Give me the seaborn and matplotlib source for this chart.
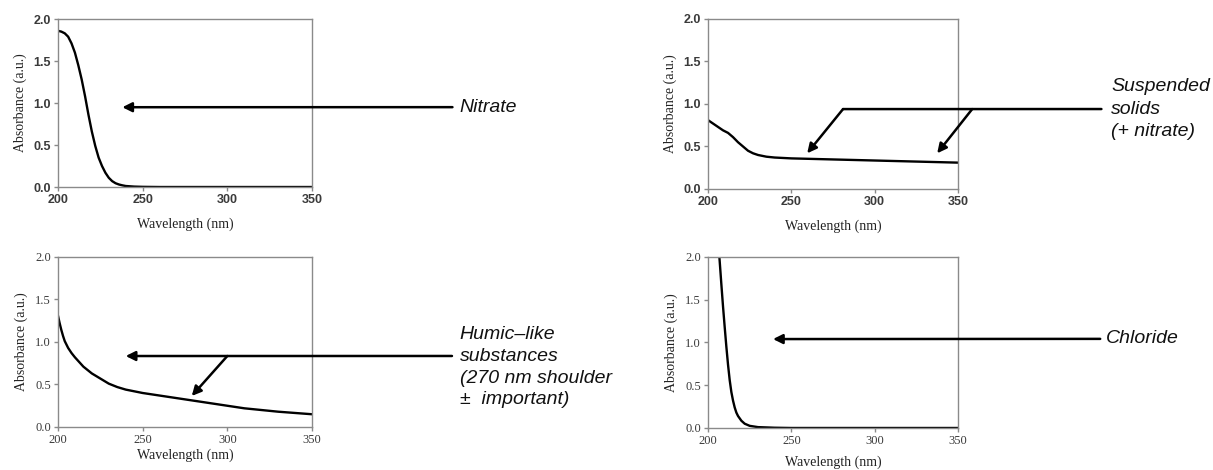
import numpy as np
import pandas as pd
import seaborn as sns
import matplotlib.pyplot as plt

# Spectra (wavelength in nm, absorbance in a.u.)
nitrate_wl = [200, 202, 204, 206, 208, 210, 212, 214, 216, 218, 220, 222, 224, 226, 228, 230, 232, 234, 236, 238, 240, 245, 250, 260, 280, 300, 320, 350]
nitrate_abs = [1.86, 1.85, 1.83, 1.79, 1.71, 1.60, 1.45, 1.28, 1.08, 0.86, 0.66, 0.49, 0.35, 0.25, 0.17, 0.11, 0.07, 0.045, 0.03, 0.02, 0.012, 0.005, 0.002, 0.0, 0.0, 0.0, 0.0, 0.0]

solids_wl = [200, 203, 206, 209, 212, 215, 218, 221, 224, 227, 230, 235, 240, 250, 260, 270, 280, 290, 300, 310, 320, 330, 340, 350]
solids_abs = [0.81, 0.77, 0.73, 0.69, 0.66, 0.61, 0.55, 0.50, 0.45, 0.42, 0.40, 0.38, 0.37, 0.36, 0.355, 0.35, 0.345, 0.34, 0.335, 0.33, 0.325, 0.32, 0.315, 0.31]

humic_wl = [200, 201, 202, 203, 204, 206, 208, 210, 215, 220, 225, 230, 235, 240, 245, 250, 260, 270, 280, 290, 300, 310, 320, 330, 340, 350]
humic_abs = [1.31, 1.22, 1.14, 1.07, 1.01, 0.93, 0.87, 0.82, 0.71, 0.63, 0.57, 0.51, 0.47, 0.44, 0.42, 0.40, 0.37, 0.34, 0.31, 0.28, 0.25, 0.22, 0.20, 0.18, 0.165, 0.15]

chloride_wl = [205, 206, 207, 208, 209, 210, 211, 212, 213, 214, 215, 216, 217, 218, 220, 222, 225, 230, 240, 250, 300, 350]
chloride_abs = [2.5, 2.2, 1.95, 1.68, 1.42, 1.18, 0.95, 0.74, 0.56, 0.42, 0.32, 0.24, 0.18, 0.14, 0.085, 0.05, 0.025, 0.01, 0.003, 0.0, 0.0, 0.0]

SANS = ['Liberation Sans', 'DejaVu Sans']
SERIF = ['Liberation Serif', 'DejaVu Serif']

sns.set_style('ticks')

fig = plt.figure(figsize=(12.13, 4.70), dpi=100)
ax1 = fig.add_axes([0.0478, 0.6021, 0.2094, 0.3574])
ax2 = fig.add_axes([0.5837, 0.5979, 0.2061, 0.3617])
ax3 = fig.add_axes([0.0478, 0.0915, 0.2094, 0.3617])
ax4 = fig.add_axes([0.5837, 0.0894, 0.2061, 0.3638])

# axes, x, y, tick font, xlabel pad
panels = [
    (ax1, nitrate_wl, nitrate_abs, SANS, 8),
    (ax2, solids_wl, solids_abs, SANS, 8),
    (ax3, humic_wl, humic_abs, SERIF, 2),
    (ax4, chloride_wl, chloride_abs, SERIF, 6),
]

for ax, wl, ab, tick_font, xpad in panels:
    df = pd.DataFrame({'wl': wl, 'abs': ab})
    sns.lineplot(data=df, x='wl', y='abs', ax=ax, color='black', linewidth=1.7)
    ax.set_xlim(200, 350)
    ax.set_ylim(0, 2.0)
    ax.set_xticks([200, 250, 300, 350])
    ax.set_yticks([0.0, 0.5, 1.0, 1.5, 2.0])
    ax.set_yticklabels(['0.0', '0.5', '1.0', '1.5', '2.0'])
    for s in ax.spines.values():
        s.set_visible(True)
        s.set_color('#8a8a8a')
        s.set_linewidth(1.0)
    ax.tick_params(colors='#8a8a8a', length=3, width=1.0, labelcolor='#3a3a3a', labelsize=9, pad=2)
    for lab in ax.get_xticklabels() + ax.get_yticklabels():
        lab.set_family(tick_font)
        if tick_font is SANS:
            lab.set_fontweight('bold')
    ax.set_xlabel('Wavelength (nm)', family=SERIF, fontsize=10, color='#222222', labelpad=xpad)
    ax.set_ylabel('Absorbance (a.u.)', family=SERIF, fontsize=10, color='#222222', labelpad=5)

arrow = dict(arrowstyle='-|>', color='black', lw=1.8, mutation_scale=14, shrinkA=0, shrinkB=0)
plain = dict(arrowstyle='-', color='black', lw=1.8, shrinkA=0, shrinkB=0)
label_kw = dict(family=SANS, style='italic', fontsize=14, color='#111111', va='center', ha='left')

# Nitrate
ax1.annotate('', xy=(238, 0.95), xycoords='data', xytext=(0.373, 0.772),
             textcoords='figure fraction', arrowprops=arrow, annotation_clip=False)
fig.text(0.379, 0.772, 'Nitrate', **label_kw)

# Suspended solids
ax2.annotate('', xy=(281, 0.94), xycoords='data', xytext=(0.908, 0.768),
             textcoords='figure fraction', arrowprops=plain, annotation_clip=False)
ax2.annotate('', xy=(259.5, 0.42), xycoords='data', xytext=(281, 0.94),
             textcoords='data', arrowprops=arrow, annotation_clip=False)
ax2.annotate('', xy=(337.5, 0.42), xycoords='data', xytext=(358.5, 0.94),
             textcoords='data', arrowprops=arrow, annotation_clip=False)
fig.text(0.916, 0.768, 'Suspended\nsolids\n(+ nitrate)', linespacing=1.4, **label_kw)

# Humic-like substances
ax3.annotate('', xy=(240, 0.835), xycoords='data', xytext=(0.3726, 0.2426),
             textcoords='figure fraction', arrowprops=arrow, annotation_clip=False)
ax3.annotate('', xy=(279, 0.365), xycoords='data', xytext=(300, 0.835),
             textcoords='data', arrowprops=arrow, annotation_clip=False)
fig.text(0.379, 0.219, 'Humic–like\nsubstances\n(270 nm shoulder\n±  important)', linespacing=1.38, **label_kw)

# Chloride
ax4.annotate('', xy=(239, 1.04), xycoords='data', xytext=(0.907, 0.279),
             textcoords='figure fraction', arrowprops=arrow, annotation_clip=False)
fig.text(0.912, 0.279, 'Chloride', **label_kw)

fig.savefig('out.png', dpi=100)
